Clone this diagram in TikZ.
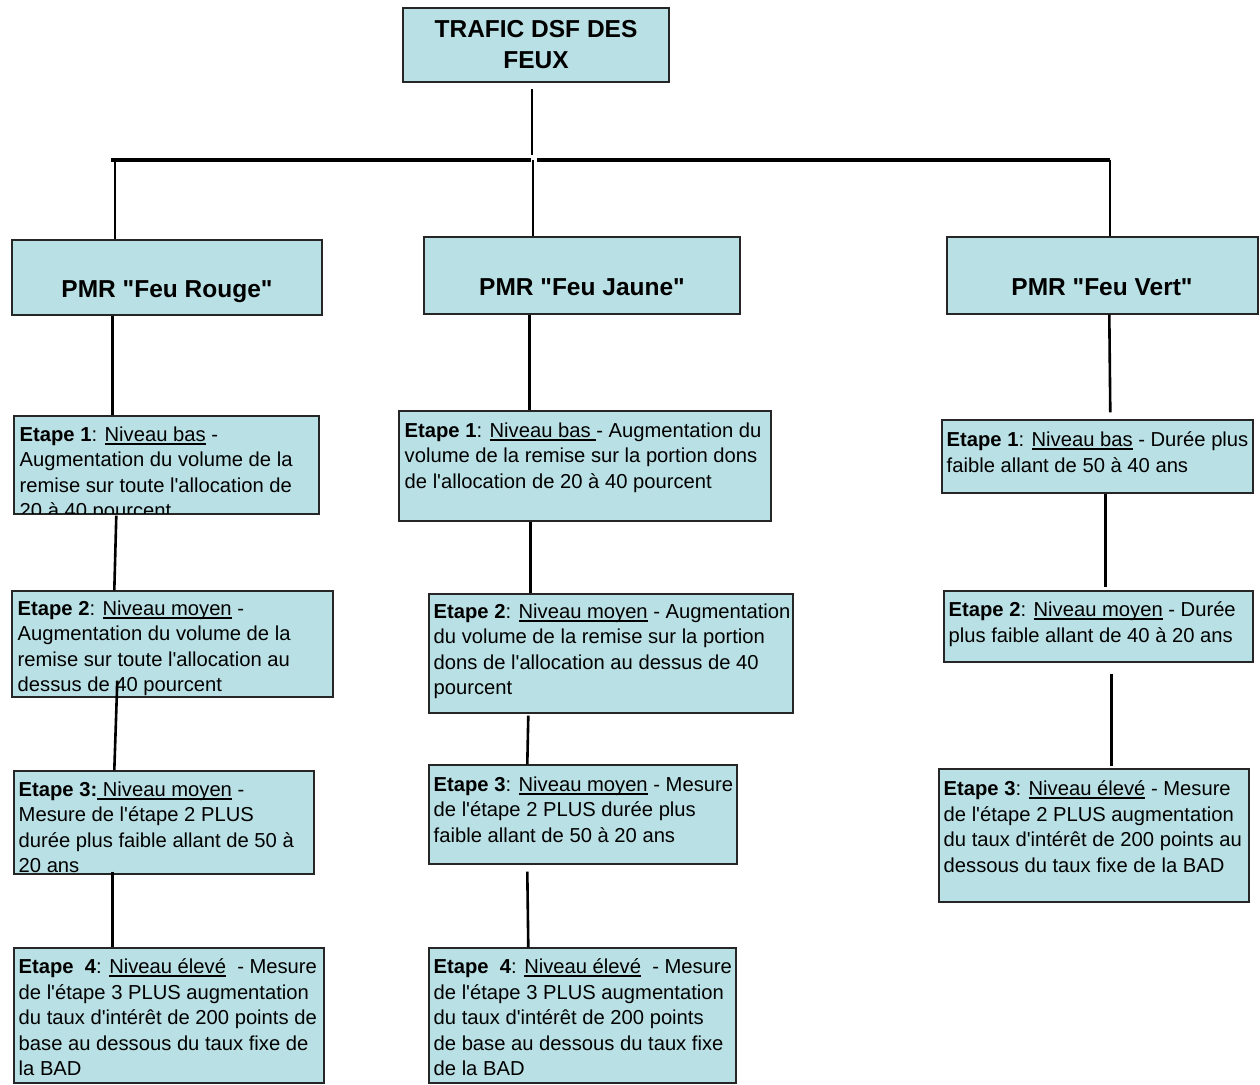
\documentclass[tikz,border=0pt]{standalone}
\usepackage{fontspec}
\newfontfamily\arial{Liberation Sans}
\usetikzlibrary{fit,calc}
\definecolor{bleugris}{RGB}{185,224,228}
\newsavebox{\soulbox}
\newcommand{\souligne}[1]{\sbox{\soulbox}{#1}\rlap{\rule[-1.6pt]{\wd\soulbox}{0.7pt}}\usebox{\soulbox}}
\newcommand{\grand}{\arial\bfseries\fontsize{12.25}{15.5}\selectfont}

\begin{document}
\begin{tikzpicture}[x=0.5pt,y=-0.5pt,font=\arial\fontsize{10.1}{12.75}\selectfont,
	boite/.style={draw=black!85,line width=.7pt,fill=bleugris,inner sep=0pt},
	texte/.style={anchor=north west,inner sep=0pt,align=left},
	entete/.style={anchor=base,inner sep=0pt,font=\grand},
	lien/.style={line width=1.3pt},
	barre/.style={line width=1.8pt}]
	\useasboundingbox (0,0) rectangle (1260,1084);
	
	% draw title and headers
	\node[boite, fit={(403,8) (669,82)}] (titre) {};
	\node[entete, anchor=north, align=center] (titreT) at (536,20) {TRAFIC DSF DES\\FEUX};
	\node[boite, fit={(12,240) (322,315)}] (rouge) {};
	\node[entete] (rougeT) at (167,297) {PMR "Feu Rouge"};
	\node[boite, fit={(424,237) (740,314)}] (jaune) {};
	\node[entete] (jauneT) at (582,295) {PMR "Feu Jaune"};
	\node[boite, fit={(947,237) (1258,314)}] (vert) {};
	\node[entete] (vertT) at (1102,295) {PMR "Feu Vert"};
	
	% draw tree
	\coordinate (haut) at (532,155);
	\coordinate (barG) at (111,160);
	\coordinate (barM1) at (531,160);
	\coordinate (barM2) at (537,160);
	\coordinate (barD) at (1110,160);
	\coordinate (pL) at (115,160);
	\coordinate (pM) at (533,160);
	\coordinate (pR) at (1110,160);
	\draw[lien] (titre.south -| haut) ++(0,6) -- (haut);
	\draw[barre] (barG) -- (barM1);
	\draw[barre] (barM2) -- (barD);
	\draw[lien] (pL) -- (rouge.north -| pL);
	\draw[lien] (pM) -- (jaune.north -| pM);
	\draw[lien] (pR) -- (vert.north -| pR);
	
	% feu rouge
	\node[boite, fit={(14,416) (319,514)}] (l1) {};
	\begin{scope}
		\clip (l1.north west) rectangle (l1.south east);
		\node[texte] (l1T) at ($(l1.north west)+(6,11)$) {\textbf{Etape 1}: \souligne{Niveau bas} -\\Augmentation du volume de la\\remise sur toute l'allocation de\\20 à 40 pourcent};
	\end{scope}
	\draw[draw=black!85,line width=.7pt] (l1.north west) rectangle (l1.south east);
	\node[boite, fit={(12,591) (333,697)}] (l2) {};
	\node[texte] (l2T) at ($(l2.north west)+(6,10)$) {\textbf{Etape 2}: \souligne{Niveau moyen} -\\Augmentation du volume de la\\remise sur toute l'allocation au\\dessus de 40 pourcent};
	\node[boite, fit={(14,771) (314,874)}] (l3) {};
	\node[texte] (l3T) at ($(l3.north west)+(5,11)$) {\textbf{Etape 3:}\souligne{ Niveau moyen} -\\Mesure de l'étape 2 PLUS\\durée plus faible allant de 50 à\\20 ans};
	\node[boite, fit={(14,948) (324,1083)}] (l4) {};
	\node[texte] (l4T) at ($(l4.north west)+(5,11)$) {\textbf{Etape~~4}: \souligne{Niveau élevé}~~- Mesure\\de l'étape 3 PLUS augmentation\\du taux d'intérêt de 200 points de\\base au dessous du taux fixe de\\la BAD};
	
	% feu jaune
	\node[boite, fit={(399,411) (771,521)}] (m1) {};
	\node[texte] (m1T) at ($(m1.north west)+(6,12)$) {\textbf{Etape 1}: \souligne{Niveau bas }- Augmentation du\\volume de la remise sur la portion dons\\de l'allocation de 20 à 40 pourcent};
	\node[boite, fit={(429,594) (793,713)}] (m2) {};
	\node[texte] (m2T) at ($(m2.north west)+(5,10)$) {\textbf{Etape 2}: \souligne{Niveau moyen} - Augmentation\\du volume de la remise sur la portion\\dons de l'allocation au dessus de 40\\pourcent};
	\node[boite, fit={(429,765) (737,864)}] (m3) {};
	\node[texte] (m3T) at ($(m3.north west)+(5,12)$) {\textbf{Etape 3}: \souligne{Niveau moyen} - Mesure\\de l'étape 2 PLUS durée plus\\faible allant de 50 à 20 ans};
	\node[boite, fit={(429,948) (736,1083)}] (m4) {};
	\node[texte] (m4T) at ($(m4.north west)+(5,11)$) {\textbf{Etape~~4}: \souligne{Niveau élevé}~~- Mesure\\de l'étape 3 PLUS augmentation\\du taux d'intérêt de 200 points\\de base au dessous du taux fixe\\de la BAD};
	
	% feu vert
	\node[boite, fit={(942,420) (1253,493)}] (d1) {};
	\node[texte] (d1T) at ($(d1.north west)+(5,12)$) {\textbf{Etape 1}: \souligne{Niveau bas} - Durée plus\\faible allant de 50 à 40 ans};
	\node[boite, fit={(944,591) (1253,662)}] (d2) {};
	\node[texte] (d2T) at ($(d2.north west)+(5,11)$) {\textbf{Etape 2}: \souligne{Niveau moyen} - Durée\\plus faible allant de 40 à 20 ans};
	\node[boite, fit={(939,769) (1249,902)}] (d3) {};
	\node[texte] (d3T) at ($(d3.north west)+(5,12)$) {\textbf{Etape 3}: \souligne{Niveau élevé} - Mesure\\de l'étape 2 PLUS augmentation\\du taux d'intérêt de 200 points au\\dessous du taux fixe de la BAD};
	
	% draw links
	\draw[lien] ($(rouge.south west)+(101,0)$) -- ($(l1.north west)+(99,0)$);
	\draw[lien] ($(l1.south west)+(103,1)$) -- ($(l2.north west)+(103,0)$);
	\draw[lien] ($(l2.south west)+(106,-17)$) -- ($(l3.north west)+(101,0)$);
	\draw[lien] ($(l3.south west)+(99,-3)$) -- ($(l4.north west)+(99,0)$);
	\draw[lien] ($(jaune.south west)+(106,0)$) -- ($(m1.north west)+(131,0)$);
	\draw[lien] ($(m1.south west)+(132,0)$) -- ($(m2.north west)+(102,0)$);
	\draw[lien] ($(m2.south west)+(100,2)$) -- ($(m3.north west)+(99,0)$);
	\draw[lien] ($(m3.south west)+(99,7)$) -- ($(m4.north west)+(100,0)$);
	\draw[lien] ($(vert.south west)+(163,0)$) -- ($(d1.north west)+(169,-7)$);
	\draw[lien] ($(d1.south west)+(164,0)$) -- ($(d2.north west)+(162,-3)$);
	\draw[lien] ($(d2.south west)+(168,11)$) -- ($(d3.north west)+(173,-2)$);
\end{tikzpicture}
\end{document}
